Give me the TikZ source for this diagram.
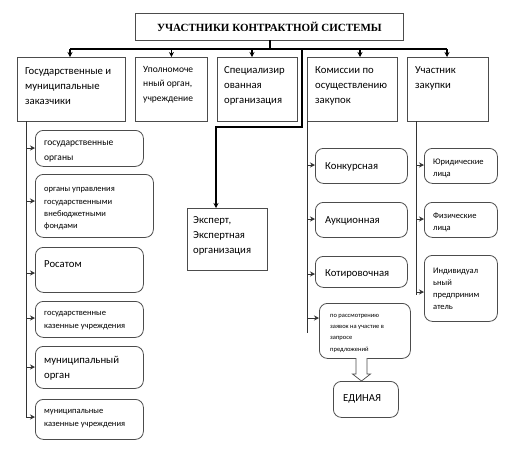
\documentclass[tikz,border=0pt]{standalone}
\usepackage{fontspec}
\setmainfont{Carlito}
\newfontfamily\titlefont{Liberation Serif}
\usetikzlibrary{arrows.meta,calc}
\begin{document}
\begin{tikzpicture}[x=1pt,y=-1pt,
  box/.style={draw=black!70, line width=0.8pt, inner sep=0pt, anchor=north west},
  rbox/.style={box, rounded corners=8pt},
  txt/.style={anchor=north west, inner sep=0pt, align=left, execute at begin node=\strut},
  conn/.style={draw=black, line width=1.3pt},
  sub/.style={draw=black!80, line width=0.8pt},
  arr/.style={-{Stealth[length=5pt,width=5pt]}},
  fA/.style={font=\fontsize{10.7}{15}\selectfont, yshift=5.5pt},
  fB/.style={font=\fontsize{9.5}{14.5}\selectfont, yshift=5.15pt},
  fC/.style={font=\fontsize{8.5}{12.3}\selectfont, yshift=3.6pt},
  fD/.style={font=\fontsize{6.5}{11.3}\selectfont, yshift=3pt},
]
\useasboundingbox (0,0) rectangle (514,448);

% title
\node[box, minimum width=268pt, minimum height=27pt] (title) at (135,13) {};
\node[inner sep=0pt, font=\titlefont\bfseries\fontsize{11}{13}\selectfont] (titletext) at (title.center) {УЧАСТНИКИ КОНТРАКТНОЙ СИСТЕМЫ};

% level 1 boxes
\node[box, minimum width=108pt, minimum height=64pt] (b1) at (17,57) {};
\node[box, minimum width=72pt, minimum height=64pt] (b2) at (135,57) {};
\node[box, minimum width=80pt, minimum height=64pt] (b3) at (217,57) {};
\node[box, minimum width=90pt, minimum height=64pt] (b4) at (307,57) {};
\node[box, minimum width=81pt, minimum height=64pt] (b5) at (407,57) {};

\node[txt, fA] (t1) at (25,73) {Государственные и\\муниципальные\\заказчики};
\node[txt, fB] (t2) at (143,71) {Уполномоче\\нный орган,\\учреждение};
\node[txt, fA] (t3) at (224,72) {Специализир\\ованная\\организация};
\node[txt, fA] (t4) at (315,72) {Комиссии по\\осуществлению\\закупок};
\node[txt, fA] (t5) at (415,72) {Участник\\закупки};

% bus
\coordinate (top) at (270,40);
\coordinate (busL) at (70,49);
\coordinate (busR) at (447,49);
\coordinate (busE) at (302,49);
\coordinate (busK) at (360,49);
\draw[conn] (top) -- (top |- busL);
\draw[conn] (busL) -- (busR);
\draw[conn, arr] (busL) -- (busL |- b1.north);
\draw[conn, arr] (b2.north |- busL) -- (b2.north);
\draw[conn, arr] (252,49) -- (252,57);
\draw[conn, arr] (busK) -- (busK |- b4.north);
\draw[conn, arr] (busR) -- (busR |- b5.north);

% expert
\node[box, minimum width=80pt, minimum height=62pt] (exp) at (187,208) {};
\node[txt, fA] (texp) at (193,222) {Эксперт,\\Экспертная\\организация};
\coordinate (eTurn) at (302,127);
\coordinate (eTurn2) at (216,127);
\draw[conn, arr] (busE) -- (eTurn) -- (eTurn2) -- (eTurn2 |- exp.north);

% left column
\node[rbox, minimum width=108pt, minimum height=36pt] (c1) at (35,130) {};
\node[rbox, minimum width=118pt, minimum height=63pt] (c2) at (35,174) {};
\node[rbox, minimum width=108pt, minimum height=45pt] (c3) at (35,247) {};
\node[rbox, minimum width=108pt, minimum height=36pt] (c4) at (35,301) {};
\node[rbox, minimum width=108pt, minimum height=42pt] (c5) at (35,346) {};
\node[rbox, minimum width=108pt, minimum height=40pt] (c6) at (35,399) {};

\node[txt, fB] (tc1) at (44,146) {государственные\\органы};
\node[txt, fC] (tc2) at (44,191) {органы управления\\государственными\\внебюджетными\\фондами};
\node[txt, fA] (tc3) at (44,262) {Росатом};
\node[txt, fC] (tc4) at (44,315) {государственные\\казенные учреждения};
\node[txt, fA] (tc5) at (44,362) {муниципальный\\орган};
\node[txt, fC] (tc6) at (44,413) {муниципальные\\казенные учреждения};

\coordinate (lTop) at (26,121);
\coordinate (lBot) at (26,417);
\draw[sub] (lTop) -- (lBot);
\foreach \n/\y in {c1/148, c2/201, c3/273, c4/318, c5/367, c6/417}
  \draw[sub, arr] (26,\y) -- (\n.west |- 0,\y);

% commissions column
\node[rbox, minimum width=92pt, minimum height=35pt] (k1) at (315,148) {};
\node[rbox, minimum width=92pt, minimum height=35pt] (k2) at (315,202) {};
\node[rbox, minimum width=92pt, minimum height=31pt] (k3) at (315,256) {};
\node[rbox, minimum width=91pt, minimum height=55pt] (k4) at (319,303) {};
\node[rbox, minimum width=65pt, minimum height=36pt] (k5) at (333,381) {};

\node[txt, fA] (tk1) at (325,164) {Конкурсная};
\node[txt, fA] (tk2) at (325,218) {Аукционная};
\node[txt, fA] (tk3) at (325,271) {Котировочная};
\node[txt, fD] (tk4) at (330,317) {по рассмотрению\\заявок на участие в\\запросе\\предложений};
\node[txt, fA] (tk5) at (343,396) {ЕДИНАЯ};

\coordinate (kTop) at (307,121);
\coordinate (kBot) at (307,333);
\draw[sub] (kTop) -- (kBot);
\foreach \n/\y in {k1/165, k2/219, k3/274, k4/318}
  \draw[sub, arr] (307,\y) -- (\n.west |- 0,\y);

% hollow block arrow
\draw[draw=black!70, line width=0.7pt, fill=white]
  (356,358) -- (356,374) -- (352.5,374) -- (361.5,381) -- (370.5,374) -- (367,374) -- (367,358);

% participants column
\node[rbox, minimum width=73pt, minimum height=35pt] (p1) at (424,148) {};
\node[rbox, minimum width=73pt, minimum height=35pt] (p2) at (424,202) {};
\node[rbox, minimum width=73pt, minimum height=66pt] (p3) at (424,255) {};

\node[txt, fC] (tp1) at (433,162) {Юридические\\лица};
\node[txt, fC] (tp2) at (433,216) {Физические\\лица};
\node[txt, fC] (tp3) at (433,271) {Индивидуал\\ьный\\предприним\\атель};

\coordinate (pTop) at (416,121);
\coordinate (pBot) at (416,295);
\draw[sub] (pTop) -- (pBot);
\foreach \n/\y in {p1/165, p2/219, p3/292}
  \draw[sub, arr] (416,\y) -- (\n.west |- 0,\y);
\end{tikzpicture}
\end{document}
